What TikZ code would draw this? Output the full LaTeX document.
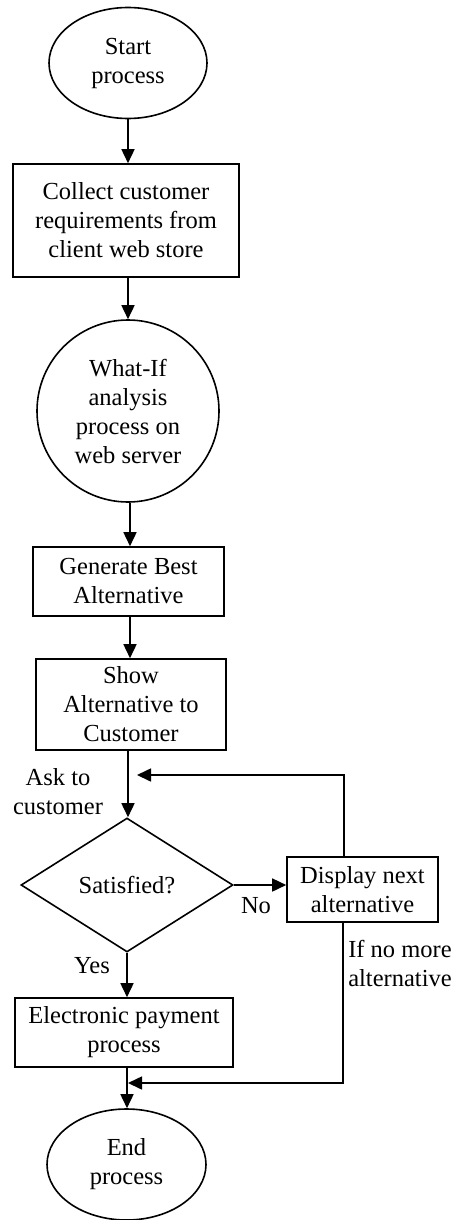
\documentclass[tikz,border=0pt]{standalone}
\usepackage{fontspec}
\setmainfont{Liberation Serif}
\usetikzlibrary{shapes.geometric,arrows.meta,calc}
\begin{document}
\begin{tikzpicture}[x=1pt,y=-1pt,
  every node/.style={font=\fontsize{24.5}{29}\selectfont, align=center, inner sep=0pt},
  shp/.style={draw, line width=1.6pt},
  boxnode/.style={shp, rectangle},
  ovalnode/.style={shp, ellipse},
  circnode/.style={shp, circle},
  decnode/.style={shp, diamond},
  lbl/.style={},
  arr/.style={line width=1.6pt, -{Triangle[width=13pt,length=14pt]}},
  ln/.style={line width=1.6pt}
]
\useasboundingbox (0,0) rectangle (455,1220);

\node[ovalnode, minimum width=158pt, minimum height=111pt] (start) at (128,63) {Start\\process};
\node[boxnode, minimum width=226pt, minimum height=113pt] (collect) at (126,220.5) {Collect customer\\requirements from\\client web store};
\node[circnode, minimum size=182pt] (whatif) at (128,411) {What-If\\analysis\\process on\\web server};
\node[boxnode, minimum width=191pt, minimum height=69pt] (gen) at (128.5,581.5) {Generate Best\\Alternative};
\node[boxnode, minimum width=190pt, minimum height=91pt] (show) at (131,704.5) {Show\\Alternative to\\Customer};
\node[decnode, minimum width=212pt, minimum height=134pt] (sat) at (127,885) {Satisfied?};
\node[boxnode, minimum width=151pt, minimum height=65pt] (disp) at (362.5,889.5) {Display next\\alternative};
\node[boxnode, minimum width=218pt, minimum height=69pt] (pay) at (124,1032.5) {Electronic payment\\process};
\node[ovalnode, minimum width=159pt, minimum height=111pt] (end) at (126.5,1164.5) {End\\process};

\node[lbl] (ask) at (58,792) {Ask to\\customer};
\node[lbl] (no) at (256,906) {No};
\node[lbl] (yes) at (92,966) {Yes};
\node[lbl, align=left] (ifno) at (400,963) {If no more\\alternative};

\coordinate (loopin) at (137,775);
\coordinate (merge) at (128,1083);

\draw[arr] (start.south) -- (start.south |- collect.north);
\draw[arr] (collect.south -| whatif.north) -- (whatif.north);
\draw[arr] (whatif.south -| 130,0) -- (130,0 |- gen.north);
\draw[arr] (gen.south -| 130,0) -- (130,0 |- show.north);
\draw[arr] (show.south -| 128,0) -- (sat.north -| 128,0);
\draw[arr] (sat.east) -- (sat.east -| disp.west);
\draw[arr] (sat.south) -- (sat.south |- pay.north);
\draw[arr] (pay.south -| 127,0) -- (end.north -| 127,0);
\draw[arr] (disp.north -| 344,0) |- (loopin);
\draw[arr] (disp.south -| 343,0) |- (merge);
\end{tikzpicture}
\end{document}
